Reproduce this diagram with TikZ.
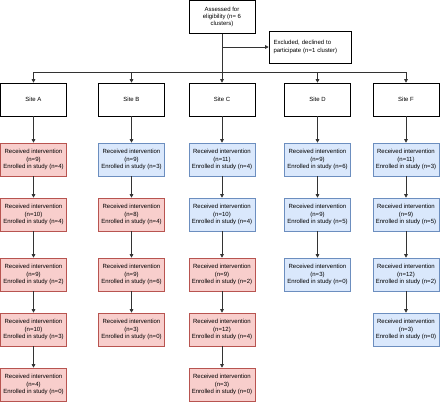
\documentclass[tikz,border=0pt]{standalone}
\usepackage{fontspec}
\setmainfont{Liberation Sans}
\usepackage{tikz}
\usetikzlibrary{arrows.meta}
\definecolor{redfill}{HTML}{F8CECC}
\definecolor{redline}{HTML}{B85450}
\definecolor{bluefill}{HTML}{DAE8FC}
\definecolor{blueline}{HTML}{6C8EBF}
\definecolor{linegray}{HTML}{333333}

\begin{document}
\begin{tikzpicture}[
    x=1pt, y=-1pt,
    box/.style={rectangle, draw=black, line width=0.6pt, minimum width=66pt, minimum height=33pt, inner sep=1pt, align=center, font=\fontsize{6}{7.3}\selectfont},
    redbox/.style={box, fill=redfill, draw=redline},
    bluebox/.style={box, fill=bluefill, draw=blueline},
    arrow/.style={-{Triangle[length=3.5pt, width=3.5pt]}, draw=linegray, line width=0.6pt}
]
    \useasboundingbox (0,0) rectangle (440,402);

    % Screening
    \node[box] (assessed) at (222, 17) {Assessed for\\eligibility (n= 6\\clusters)};
    \node[box, minimum width=82pt, minimum height=32pt, text width=73pt, inner xsep=4.5pt, align=left] (excluded) at (310, 47) {Excluded, declined to\\participate (n=1 cluster)};
    \coordinate (split) at (222, 72);

    % Sites
    \node[box] (siteA) at (33.5, 99.5) {Site A};
    \node[box] (siteB) at (131.5, 99.5) {Site B};
    \node[box] (siteC) at (222, 99.5) {Site C};
    \node[box] (siteD) at (317.5, 99.5) {Site D};
    \node[box] (siteF) at (406, 99.5) {Site F};

    \draw[arrow] (assessed.south |- excluded.west) -- (excluded.west);
    \draw[arrow] (assessed) -- (siteC);
    \draw[arrow] (split) -| (siteA);
    \draw[arrow] (split) -| (siteB);
    \draw[arrow] (split) -| (siteD);
    \draw[arrow] (split) -| (siteF);

    % Site A
    \node[redbox] (a1) at (33.5, 159.5) {Received intervention\\(n=9)\\Enrolled in study (n=4)};
    \node[redbox] (a2) at (33.5, 214.5) {Received intervention\\(n=10)\\Enrolled in study (n=4)};
    \node[redbox] (a3) at (33.5, 274.5) {Received intervention\\(n=9)\\Enrolled in study (n=2)};
    \node[redbox] (a4) at (33.5, 329.5) {Received intervention\\(n=10)\\Enrolled in study (n=3)};
    \node[redbox] (a5) at (33.5, 384.5) {Received intervention\\(n=4)\\Enrolled in study (n=0)};

    \draw[arrow] (siteA) -- (a1);
    \draw[arrow] (a1) -- (a2);
    \draw[arrow] (a2) -- (a3);
    \draw[arrow] (a3) -- (a4);
    \draw[arrow] (a4) -- (a5);

    % Site B
    \node[bluebox] (b1) at (131.5, 159.5) {Received intervention\\(n=9)\\Enrolled in study (n=3)};
    \node[redbox] (b2) at (131.5, 214.5) {Received intervention\\(n=8)\\Enrolled in study (n=4)};
    \node[redbox] (b3) at (131.5, 274.5) {Received intervention\\(n=9)\\Enrolled in study (n=6)};
    \node[redbox] (b4) at (131.5, 329.5) {Received intervention\\(n=3)\\Enrolled in study (n=0)};

    \draw[arrow] (siteB) -- (b1);
    \draw[arrow] (b1) -- (b2);
    \draw[arrow] (b2) -- (b3);
    \draw[arrow] (b3) -- (b4);

    % Site C
    \node[bluebox] (c1) at (222, 159.5) {Received intervention\\(n=11)\\Enrolled in study (n=4)};
    \node[bluebox] (c2) at (222, 214.5) {Received intervention\\(n=10)\\Enrolled in study (n=4)};
    \node[redbox] (c3) at (222, 274.5) {Received intervention\\(n=9)\\Enrolled in study (n=2)};
    \node[redbox] (c4) at (222, 329.5) {Received intervention\\(n=12)\\Enrolled in study (n=4)};
    \node[redbox] (c5) at (222, 384.5) {Received intervention\\(n=3)\\Enrolled in study (n=0)};

    \draw[arrow] (siteC) -- (c1);
    \draw[arrow] (c1) -- (c2);
    \draw[arrow] (c2) -- (c3);
    \draw[arrow] (c3) -- (c4);
    \draw[arrow] (c4) -- (c5);

    % Site D
    \node[bluebox] (d1) at (317.5, 159.5) {Received intervention\\(n=9)\\Enrolled in study (n=6)};
    \node[bluebox] (d2) at (317.5, 214.5) {Received intervention\\(n=9)\\Enrolled in study (n=5)};
    \node[bluebox] (d3) at (317.5, 274.5) {Received intervention\\(n=3)\\Enrolled in study (n=0)};

    \draw[arrow] (siteD) -- (d1);
    \draw[arrow] (d1) -- (d2);
    \draw[arrow] (d2) -- (d3);

    % Site F
    \node[bluebox] (f1) at (406, 159.5) {Received intervention\\(n=11)\\Enrolled in study (n=3)};
    \node[bluebox] (f2) at (406, 214.5) {Received intervention\\(n=9)\\Enrolled in study (n=5)};
    \node[bluebox] (f3) at (406, 274.5) {Received intervention\\(n=12)\\Enrolled in study (n=2)};
    \node[bluebox] (f4) at (406, 329.5) {Received intervention\\(n=3)\\Enrolled in study (n=0)};

    \draw[arrow] (siteF) -- (f1);
    \draw[arrow] (f1) -- (f2);
    \draw[arrow] (f2) -- (f3);
    \draw[arrow] (f3) -- (f4);
\end{tikzpicture}
\end{document}
